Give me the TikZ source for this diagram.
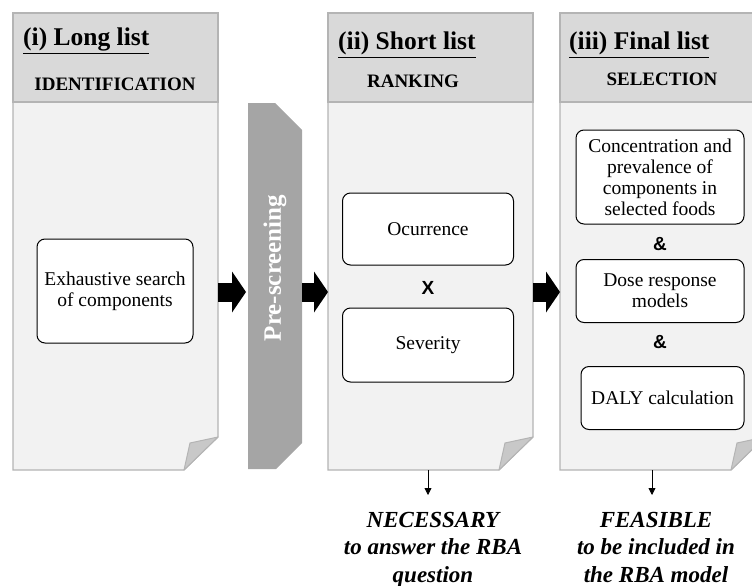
\documentclass[tikz,border=0pt]{standalone}
\usepackage{fontspec}
\setmainfont{Liberation Serif}
\newfontfamily\arialfont{Liberation Sans}
\usetikzlibrary{arrows.meta}

\definecolor{pagegray}{HTML}{F2F2F2}
\definecolor{headgray}{HTML}{D9D9D9}
\definecolor{edgegray}{HTML}{B4B4B4}
\definecolor{bargray}{HTML}{A5A5A5}
\definecolor{flapgray}{HTML}{C8C8C8}

\begin{document}
\begin{tikzpicture}[x=1pt,y=-1pt,every node/.style={inner sep=0pt},
  panel/.style={fill=pagegray,draw=edgegray,line width=1.2pt},
  header/.style={fill=headgray,draw=edgegray,line width=1.2pt},
  flap/.style={fill=flapgray,draw=edgegray,line width=1pt,line join=round},
  box/.style={draw,rounded corners=8pt,fill=white,line width=1pt,align=center,font=\fontsize{19.5}{21}\selectfont},
  title/.style={anchor=base west,font=\bfseries\fontsize{25.5}{30}\selectfont},
  stage/.style={anchor=base,font=\bfseries\fontsize{19}{22}\selectfont},
  op/.style={font=\arialfont\bfseries\fontsize{19}{22}\selectfont},
  bigarrow/.style={line width=19pt,-{Triangle[length=14pt,width=41pt,line width=0pt]}},
  smallarrow/.style={line width=0.8pt,-{Triangle[length=7pt,width=7pt]}},
  outcome/.style={align=center,anchor=north,font=\bfseries\itshape\fontsize{23}{27.5}\selectfont}]

\useasboundingbox (0,0) rectangle (752,586);

% the three pages
\foreach \n/\x in {1/13,2/328,3/560}{
  \draw[panel] (\x,13) -- ++(205,0) -- ++(0,424) -- ++(-34,33) -- ++(-171,0) -- cycle;
  \draw[header] (\x,13) rectangle ++(205,89);
  \draw[flap] ({\x+205},437) -- ++(-28,6) -- ++(-6,27) -- cycle;
  \coordinate (w\n) at (\x,292);
  \coordinate (e\n) at ({\x+205},292);
}
\coordinate (s2) at (428,470);
\coordinate (s3) at (652,470);

% pre-screening bar
\fill[bargray] (248,103) -- (275,103) -- (302,130) -- (302,443) -- (276,469) -- (248,469) -- cycle;
\node[rotate=90,text=white,font=\bfseries\fontsize{25}{30}\selectfont] (pre) at (275,268) {Pre-screening};
\coordinate (preW) at (246,292);
\coordinate (preE) at (302,292);

\node[title] (t1) at (23,46) {\underline{(i) Long list}};
\node[title] (t2) at (338,50) {\underline{(ii) Short list}};
\node[title] (t3) at (569,50) {\underline{(iii) Final list}};
\node[stage] (ident) at (115,90) {IDENTIFICATION};
\node[stage] (rank) at (413,87) {RANKING};
\node[stage] (select) at (662,85) {SELECTION};

\node[box,minimum width=156pt,minimum height=104pt] (search) at (115,291) {Exhaustive search\\of components};
\node[box,minimum width=171pt,minimum height=72pt] (occ) at (428,229) {Ocurrence};
\node[op] (times) at (428,288) {X};
\node[box,minimum width=171pt,minimum height=74pt] (sev) at (428,345) {Severity};
\node[box,minimum width=168pt,minimum height=94pt] (conc) at (660,177) {Concentration and\\prevalence of\\components in\\selected foods};
\node[op] (and1) at (660,244) {\&};
\node[box,minimum width=168pt,minimum height=63pt] (dose) at (660,291) {Dose response\\models};
\node[op] (and2) at (660,342) {\&};
\node[box,minimum width=163pt,minimum height=63pt] (daly) at (662.5,398) {DALY calculation};

\draw[bigarrow] (e1) -- (preW);
\draw[bigarrow] (preE) -- (w2);
\draw[bigarrow] (e2) -- (w3);

\node[outcome] (nec) at (433,512) {NECESSARY\\to answer the RBA\\question};
\node[outcome] (feas) at (656,512) {FEASIBLE\\to be included in\\the RBA model};
\draw[smallarrow] (s2) -- ([yshift=17pt]s2 |- nec.north);
\draw[smallarrow] (s3) -- ([yshift=17pt]s3 |- feas.north);
\end{tikzpicture}
\end{document}
